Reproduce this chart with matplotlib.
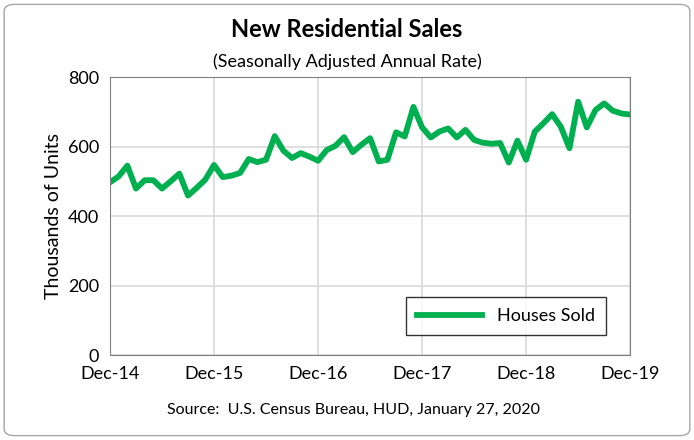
import matplotlib.pyplot as plt
from matplotlib.patches import FancyBboxPatch

# monthly new home sales, Dec-14 .. Dec-19 (thousands, SAAR)
sales = [497, 514, 545, 479, 503, 503, 479, 500, 522, 459, 481, 505,
         547, 512, 516, 524, 564, 555, 562, 630, 588, 567, 581, 571,
         559, 590, 602, 627, 584, 605, 624, 557, 562, 641, 629, 714,
         655, 626, 643, 652, 626, 648, 619, 611, 608, 610, 554, 617,
         562, 643, 667, 693, 657, 595, 729, 655, 705, 724, 703, 695, 692]
tick_labels = ['Dec-14', 'Dec-15', 'Dec-16', 'Dec-17', 'Dec-18', 'Dec-19']
green = '#00B050'

plt.rcParams['font.family'] = ['Lato', 'DejaVu Sans']

fig = plt.figure(figsize=(6.94, 4.4), dpi=100)
fig.patches.append(FancyBboxPatch((0.006, 0.01), 0.988, 0.98, boxstyle='round,pad=0,rounding_size=0.015',
                                  transform=fig.transFigure, fill=False, edgecolor='#A6A6A6', lw=1))
ax = fig.add_axes([0.1585, 0.193, 0.7495, 0.632])

ax.plot(range(len(sales)), sales, color=green, lw=4.2, label='Houses Sold')
ax.set_xlim(0, 60)
ax.set_ylim(0, 800)
ax.set_xticks(range(0, 61, 12))
ax.set_xticklabels(tick_labels)
ax.set_yticks(range(0, 801, 200))
ax.grid(True, color='#D9D9D9', lw=1.2)
ax.set_axisbelow(True)
for s in ax.spines.values():
    s.set_color('#808080')
ax.tick_params(length=0, labelsize=13, pad=8)
ax.set_ylabel('Thousands of Units', fontsize=14)

leg = ax.legend(loc='lower right', bbox_to_anchor=(0.97, 0.04), fontsize=13, fancybox=False,
                edgecolor='black', handlelength=3.6, borderpad=0.6)
leg.get_frame().set_linewidth(1)

fig.text(0.5, 0.915, 'New Residential Sales', ha='center', fontsize=17, fontweight='bold')
fig.text(0.5, 0.848, '(Seasonally Adjusted Annual Rate)', ha='center', fontsize=13)
fig.text(0.51, 0.058, 'Source:  U.S. Census Bureau, HUD, January 27, 2020', ha='center', fontsize=11.5)

fig.savefig('out.png', dpi=100)
